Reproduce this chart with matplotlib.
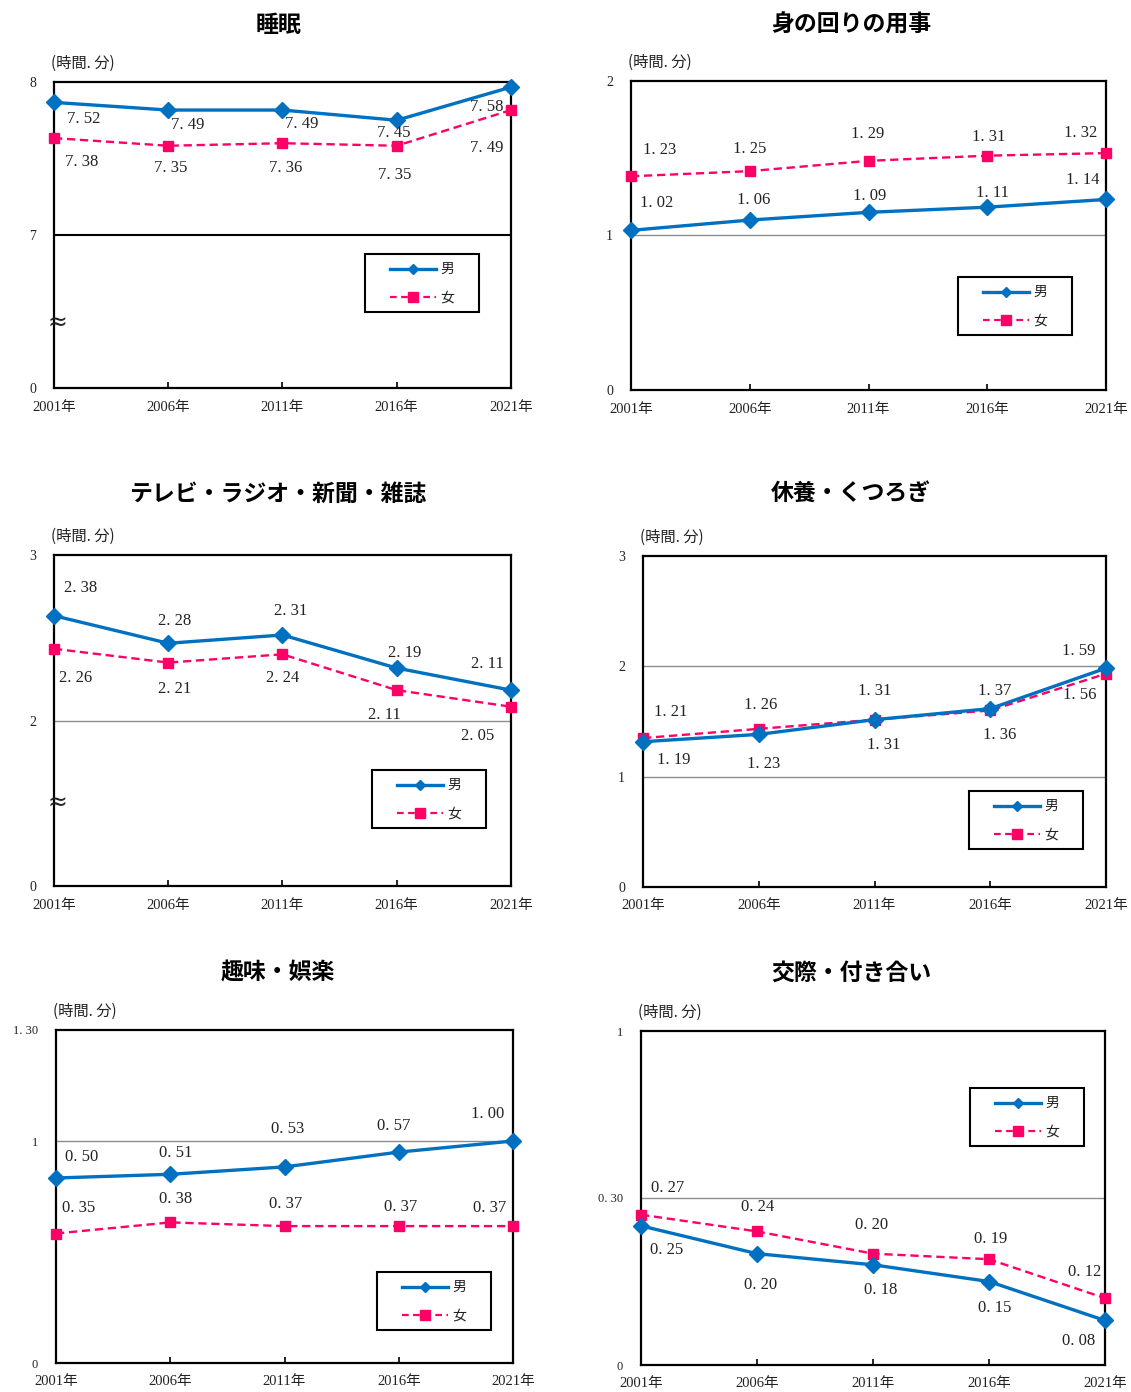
"""Six small panels: time use by activity, men vs women, 2001-2021."""

import numpy as np
import matplotlib

matplotlib.use("Agg")
import matplotlib.pyplot as plt
from matplotlib.lines import Line2D
from matplotlib.offsetbox import AnchoredOffsetbox, DrawingArea, HPacker, TextArea, VPacker

W, H, DPI = 1131, 1392, 100

SERIF = ["Liberation Serif", "Noto Sans CJK JP"]
GOTHIC = ["Noto Sans CJK JP", "DejaVu Sans"]
BLUE = "#0070C0"
PINK = "#FF0066"

YEARS = ["2001年", "2006年", "2011年", "2016年", "2021年"]
SERIES_NAMES = ["男", "女"]
UNIT_LABEL = "(時間. 分)"

# values are written as hours.minutes, as in the source table
SLEEP_MALE = [7.52, 7.49, 7.49, 7.45, 7.58]
SLEEP_FEMALE = [7.38, 7.35, 7.36, 7.35, 7.49]
CHORES_MALE = [1.02, 1.06, 1.09, 1.11, 1.14]
CHORES_FEMALE = [1.23, 1.25, 1.29, 1.31, 1.32]
MEDIA_MALE = [2.38, 2.28, 2.31, 2.19, 2.11]
MEDIA_FEMALE = [2.26, 2.21, 2.24, 2.11, 2.05]
REST_MALE = [1.19, 1.23, 1.31, 1.37, 1.59]
REST_FEMALE = [1.21, 1.26, 1.31, 1.36, 1.56]
HOBBY_MALE = [0.50, 0.51, 0.53, 0.57, 1.00]
HOBBY_FEMALE = [0.35, 0.38, 0.37, 0.37, 0.37]
SOCIAL_MALE = [0.25, 0.20, 0.18, 0.15, 0.08]
SOCIAL_FEMALE = [0.27, 0.24, 0.20, 0.19, 0.12]

# y ticks (hours.minutes) for each panel, with their printed labels
SLEEP_TICKS = [0, 7, 8]
CHORES_TICKS = [0, 1, 2]
MEDIA_TICKS = [0, 2, 3]
REST_TICKS = [0, 1, 2, 3]
HOBBY_TICKS = [0, 1, 1.30]
SOCIAL_TICKS = [0, 0.30, 1]

PANELS = [
    dict(title="睡眠", male=SLEEP_MALE, female=SLEEP_FEMALE, ticks=SLEEP_TICKS,
         brk=7, brk_mark=3, grid=[7], grid_color="black", grid_lw=1.5,
         rect=(54, 82, 511, 388), legend=(365, 254),
         moff=[(30, 17), (19, 15), (19, 14), (-3, 13), (-24, 20)],
         foff=[(28, 24), (2, 22), (3, 25), (-2, 29), (-24, 38)]),
    dict(title="身の回りの用事", male=CHORES_MALE, female=CHORES_FEMALE, ticks=CHORES_TICKS,
         brk=None, grid=[1], grid_color="#8c8c8c", grid_lw=1.0,
         rect=(631, 81, 1106, 390), legend=(958, 277),
         moff=[(26, -27), (4, -20), (1, -16), (5, -14), (-23, -19)],
         foff=[(29, -26), (0, -22), (-1, -27), (1, -19), (-25, -20)]),
    dict(title="テレビ・ラジオ・新聞・雑誌", male=MEDIA_MALE, female=MEDIA_FEMALE, ticks=MEDIA_TICKS,
         brk=2, brk_mark=1, grid=[2], grid_color="#8c8c8c", grid_lw=1.0,
         rect=(54, 555, 511, 886), legend=(372, 770),
         moff=[(27, -28), (6, -22), (8, -24), (8, -15), (-24, -26)],
         foff=[(22, 29), (6, 26), (0, 24), (-12, 25), (-33, 29)]),
    dict(title="休養・くつろぎ", male=REST_MALE, female=REST_FEMALE, ticks=REST_TICKS,
         brk=None, grid=[1, 2], grid_color="#8c8c8c", grid_lw=1.0,
         rect=(643, 556, 1106, 887), legend=(969, 791),
         moff=[(31, 18), (5, 30), (9, 25), (4, -18), (-27, -17)],
         foff=[(28, -26), (2, -24), (0, -29), (9, 25), (-26, 21)]),
    dict(title="趣味・娯楽", male=HOBBY_MALE, female=HOBBY_FEMALE, ticks=HOBBY_TICKS,
         brk=None, grid=[1], grid_color="#8c8c8c", grid_lw=1.0,
         rect=(56, 1030, 513, 1363), legend=(377, 1272),
         moff=[(26, -21), (5, -21), (3, -38), (-5, -26), (-25, -27)],
         foff=[(23, -25), (5, -23), (1, -22), (2, -19), (-23, -18)]),
    dict(title="交際・付き合い", male=SOCIAL_MALE, female=SOCIAL_FEMALE, ticks=SOCIAL_TICKS,
         brk=None, grid=[0.30], grid_color="#8c8c8c", grid_lw=1.0,
         rect=(641, 1031, 1105, 1365), legend=(970, 1088),
         moff=[(26, 24), (4, 31), (8, 25), (6, 27), (-26, 21)],
         foff=[(27, -27), (1, -24), (-1, -29), (2, -20), (-20, -26)]),
]
TITLE_X = [278, 851]
TITLE_Y = [25, 494, 973]


def split_hm(v):
    h = int(v)
    return h, int(round((v - h) * 100))


def to_hours(v):
    h, m = split_hm(v)
    return h + m / 60.0


def hm_text(v):
    h, m = split_hm(v)
    return f"{h}. {m:02d}"


def tick_text(v):
    h, m = split_hm(v)
    return f"{h}" if m == 0 else f"{h}. {m:02d}"


def broken_scale(ax, brk, top):
    """Lower part 0..brk and upper part brk..top each take half the height."""
    xs = [0.0, brk, top]
    us = [0.0, 1.0, 2.0]
    ax.set_yscale("function", functions=(lambda v: np.interp(v, xs, us),
                                         lambda u: np.interp(u, us, xs)))


def add_legend(fig, pos):
    rows = []
    styles = [
        dict(color=BLUE, lw=2.4, ls="-", marker="D", ms=5),
        dict(color=PINK, lw=1.6, ls=(0, (3, 2)), marker="s", ms=7),
    ]
    for name, st in zip(SERIES_NAMES, styles):
        da = DrawingArea(33, 12, 0, 0)
        da.add_artist(Line2D([0, 33], [6, 6], color=st["color"], lw=st["lw"], linestyle=st["ls"]))
        da.add_artist(Line2D([16.5], [6], color=st["color"], marker=st["marker"], ms=st["ms"], lw=0))
        txt = TextArea(name, textprops=dict(fontsize=10, family=GOTHIC, color="#222222"))
        rows.append(HPacker(children=[da, txt], align="center", pad=0, sep=3))
    col = VPacker(children=rows, align="left", pad=0, sep=8)
    box = HPacker(children=[DrawingArea(13, 1), col, DrawingArea(13, 1)], align="center", pad=5, sep=0)
    anch = AnchoredOffsetbox(loc="upper left", child=box, pad=0, borderpad=0, frameon=True,
                             bbox_to_anchor=(pos[0] / W, 1 - pos[1] / H),
                             bbox_transform=fig.transFigure)
    anch.patch.set_boxstyle("square", pad=0)
    anch.patch.set_edgecolor("black")
    anch.patch.set_linewidth(1.5)
    fig.add_artist(anch)


fig = plt.figure(figsize=(W / DPI, H / DPI), dpi=DPI)

for k, p in enumerate(PANELS):
    x0, y0, x1, y1 = p["rect"]
    ax = fig.add_axes([x0 / W, 1 - y1 / H, (x1 - x0) / W, (y1 - y0) / H])
    ticks_h = [to_hours(t) for t in p["ticks"]]
    top = ticks_h[-1]
    if p["brk"] is not None:
        broken_scale(ax, to_hours(p["brk"]), top)
    ax.set_xlim(0, len(YEARS) - 1)
    ax.set_ylim(0, top)

    for g in p["grid"]:
        ax.axhline(to_hours(g), color=p["grid_color"], lw=p["grid_lw"], zorder=1)

    xs = np.arange(len(YEARS))
    male_h = [to_hours(v) for v in p["male"]]
    female_h = [to_hours(v) for v in p["female"]]
    ax.plot(xs, female_h, color=PINK, lw=1.7, dashes=(3.5, 2), marker="s", ms=7,
            clip_on=False, zorder=3)
    ax.plot(xs, male_h, color=BLUE, lw=2.4, marker="D", ms=8, clip_on=False, zorder=4)

    for i in range(len(YEARS)):
        for vals, vh, off in ((p["male"], male_h, p["moff"]), (p["female"], female_h, p["foff"])):
            ax.annotate(hm_text(vals[i]), (xs[i], vh[i]), xytext=(off[i][0], -off[i][1]),
                        textcoords="offset pixels", ha="center", va="center",
                        fontsize=12, family=SERIF, color="#222222", zorder=5)

    ax.set_xticks(xs, YEARS, fontfamily=SERIF, fontsize=10.5, color="#222222")
    ax.set_yticks(ticks_h, [tick_text(t) for t in p["ticks"]], fontfamily=SERIF,
                  fontsize=10 if top >= 2 else 9, color="#222222")
    ax.tick_params(axis="x", direction="in", length=4, width=1.2, pad=9)
    ax.tick_params(axis="y", length=0, pad=13)
    for sp in ax.spines.values():
        sp.set_linewidth(1.6)
        sp.set_color("black")
        sp.set_zorder(2)

    if p["brk"] is not None:
        ax.annotate("≈", (0, p["brk_mark"]), xycoords=ax.get_yaxis_transform(),
                    xytext=(3, 0), textcoords="offset pixels", ha="center", va="center",
                    fontsize=17, family="DejaVu Sans", color="#222222", zorder=6)

    ax.annotate(UNIT_LABEL, (0, 1), xycoords="axes fraction", xytext=(-3, 19),
                textcoords="offset pixels", ha="left", va="center", fontsize=11,
                family=GOTHIC, color="#222222")

    fig.text(TITLE_X[k % 2] / W, 1 - TITLE_Y[k // 2] / H, p["title"], ha="center", va="center",
             fontsize=16.5, fontweight="bold", family=GOTHIC)
    add_legend(fig, p["legend"])

fig.savefig("out.png", dpi=DPI)
